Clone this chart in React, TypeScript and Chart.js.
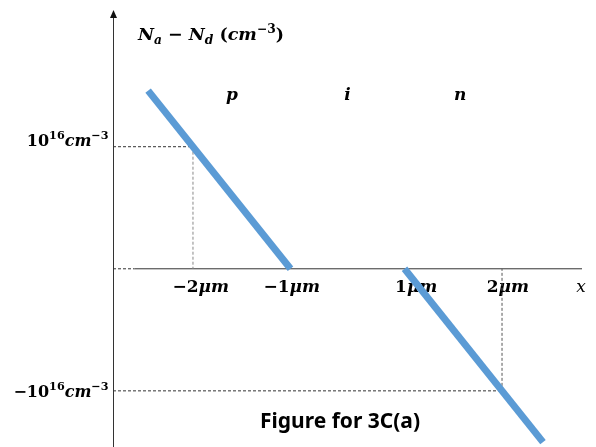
import React, { useEffect, useRef } from "react";
import { Chart, registerables, LinearScale } from "chart.js";

// ---- data (x in µm, y in units of 10^16 cm^-3) ----
const X_MIN = -2.82;
const X_MAX = 2.82;
const Y_MIN = -1.46;
const Y_MAX = 2.12;
const GAP = 0.831; // compression of the intrinsic region in the drawing

const pLine = [
  { x: -2.46, y: 1.46 },
  { x: -1, y: 0 },
];
const nLine = [
  { x: 1, y: 0 },
  { x: 2.42, y: -1.42 },
];
const guideTopH = [
  { x: X_MIN, y: 1 },
  { x: -2, y: 1 },
];
const guideTopV = [
  { x: -2, y: 1 },
  { x: -2, y: 0 },
];
const guideBottomH = [
  { x: X_MIN, y: -1 },
  { x: 2, y: -1 },
];
const guideBottomV = [
  { x: 2, y: -1 },
  { x: 2, y: 0 },
];
const axisDash = [
  { x: X_MIN, y: 0 },
  { x: -2.6, y: 0 },
];
const axisSolid = [
  { x: -2.6, y: 0 },
  { x: X_MAX, y: 0 },
];
const tickLabels = ["−2", "−1", "1", "2"];
const tickLabelAt = [-1.92, -0.98, 1.12, 2.06];
const regionLabels = ["p", "i", "n"];
const regionLabelAt = [-1.6, 0.0, 1.57];
const levelValues = [1, -1];
const titleText = "Figure for 3C(a)";

const toDisp = (v: number) =>
  v <= -1 ? v : v >= 1 ? v - GAP : -1 + ((v + 1) * (2 - GAP)) / 2;
const fromDisp = (d: number) =>
  d <= -1 ? d : d >= 1 - GAP ? d + GAP : -1 + ((d + 1) * 2) / (2 - GAP);

class GapScale extends LinearScale {
  static id = "gap";
  static defaults = (LinearScale as any).defaults;
  getPixelForValue(value: number) {
    return super.getPixelForValue(toDisp(value));
  }
  getValueForPixel(pixel: number) {
    return fromDisp(super.getValueForPixel(pixel) as number);
  }
}

Chart.register(...registerables, GapScale as any);

type Seg = { t: string; mode?: "sup" | "sub"; it?: boolean };
const MATH = "'DejaVu Serif', 'Liberation Serif', serif";

function drawRich(
  ctx: CanvasRenderingContext2D,
  segs: Seg[],
  x: number,
  y: number,
  size: number,
  align: "left" | "right" | "center"
) {
  const fontFor = (s: Seg) => {
    const sz = s.mode ? size * 0.7 : size;
    return `${s.it === false ? "" : "italic "}bold ${sz}px ${MATH}`;
  };
  let total = 0;
  for (const s of segs) {
    ctx.font = fontFor(s);
    total += ctx.measureText(s.t).width;
  }
  let cx = align === "left" ? x : align === "right" ? x - total : x - total / 2;
  ctx.textBaseline = "alphabetic";
  ctx.textAlign = "left";
  for (const s of segs) {
    ctx.font = fontFor(s);
    const dy = s.mode === "sup" ? -size * 0.42 : s.mode === "sub" ? size * 0.22 : 0;
    ctx.fillText(s.t, cx, y + dy);
    cx += ctx.measureText(s.t).width;
  }
}

const textPlugin = {
  id: "schematicText",
  beforeDatasetsDraw(chart: any) {
    const { ctx } = chart;
    const xs = chart.scales.x;
    const ys = chart.scales.y;
    ctx.save();
    ctx.fillStyle = "#000";

    // vertical axis with arrow
    const ax = Math.round(xs.getPixelForValue(X_MIN)) + 0.5;
    const top = ys.getPixelForValue(Y_MAX);
    ctx.strokeStyle = "#333";
    ctx.lineWidth = 1;
    ctx.beginPath();
    ctx.moveTo(ax, ys.getPixelForValue(Y_MIN));
    ctx.lineTo(ax, top + 6);
    ctx.stroke();
    ctx.fillStyle = "#111";
    ctx.beginPath();
    ctx.moveTo(ax, top);
    ctx.lineTo(ax - 3.5, top + 8);
    ctx.lineTo(ax + 3.5, top + 8);
    ctx.closePath();
    ctx.fill();

    ctx.fillStyle = "#000";
    // y-axis title
    drawRich(
      ctx,
      [
        { t: "N" },
        { t: "a", mode: "sub" },
        { t: " − ", it: false },
        { t: "N" },
        { t: "d", mode: "sub" },
        { t: " (", it: false },
        { t: "cm" },
        { t: "−3", mode: "sup", it: false },
        { t: ")", it: false },
      ],
      138,
      40,
      17.5,
      "left"
    );

    // region labels
    regionLabels.forEach((lab, i) => {
      drawRich(ctx, [{ t: lab }], xs.getPixelForValue(regionLabelAt[i]), 100, 17, "center");
    });

    // level labels
    levelValues.forEach((v) => {
      const py = ys.getPixelForValue(v);
      const segs: Seg[] = [
        { t: (v < 0 ? "−" : "") + "10", it: false },
        { t: "16", mode: "sup", it: false },
        { t: "cm" },
        { t: "−3", mode: "sup", it: false },
      ];
      drawRich(ctx, segs, ax - 5, v > 0 ? py - 1 : py + 6, 16, "right");
    });

    // x tick labels
    const yl = ys.getPixelForValue(0) + 23;
    tickLabels.forEach((lab, i) => {
      drawRich(
        ctx,
        [{ t: lab, it: false }, { t: "μm" }],
        xs.getPixelForValue(tickLabelAt[i]),
        yl,
        17,
        "center"
      );
    });
    ctx.font = `italic 17px ${MATH}`;
    ctx.textAlign = "center";
    ctx.fillText("x", 581, yl);

    // figure title
    ctx.font = "bold 21px 'Noto Sans', sans-serif";
    ctx.textAlign = "center";
    ctx.fillText(titleText, 340, 428);
    ctx.restore();
  },
};

export default function App() {
  const ref = useRef<HTMLCanvasElement>(null);
  useEffect(() => {
    if (!ref.current) return;
    const line = (data: any[], color: string, width: number, dash: number[] = []) => ({
      data,
      showLine: true,
      borderColor: color,
      borderWidth: width,
      borderDash: dash,
      borderCapStyle: "butt" as const,
      pointRadius: 0,
      fill: false,
      clip: false as any,
    });
    const chart = new Chart(ref.current, {
      type: "scatter",
      data: {
        datasets: [
          line(pLine, "#5B9BD5", 7),
          line(nLine, "#5B9BD5", 7),
          line(guideTopH, "#333", 1, [3, 2]),
          line(guideTopV, "#888", 1, [3, 2]),
          line(guideBottomH, "#333", 1, [3, 2]),
          line(guideBottomV, "#555", 1, [3, 2]),
          line(axisDash, "#333", 1, [3, 2]),
          line(axisSolid, "#333", 1),
        ] as any,
      },
      options: {
        animation: false,
        responsive: false,
        layout: { padding: { left: 113, right: 14, top: 10, bottom: 0 } },
        scales: {
          x: { type: "gap" as any, min: toDisp(X_MIN), max: toDisp(X_MAX), display: false },
          y: { type: "linear", min: Y_MIN, max: Y_MAX, display: false },
        },
        plugins: { legend: { display: false }, tooltip: { enabled: false } },
      },
      plugins: [textPlugin],
    });
    return () => chart.destroy();
  }, []);
  return (
    <div style={{ position: "fixed", left: 0, top: 0, width: 596, height: 447, background: "#fff" }}>
      <canvas ref={ref} width={596} height={447} />
    </div>
  );
}
